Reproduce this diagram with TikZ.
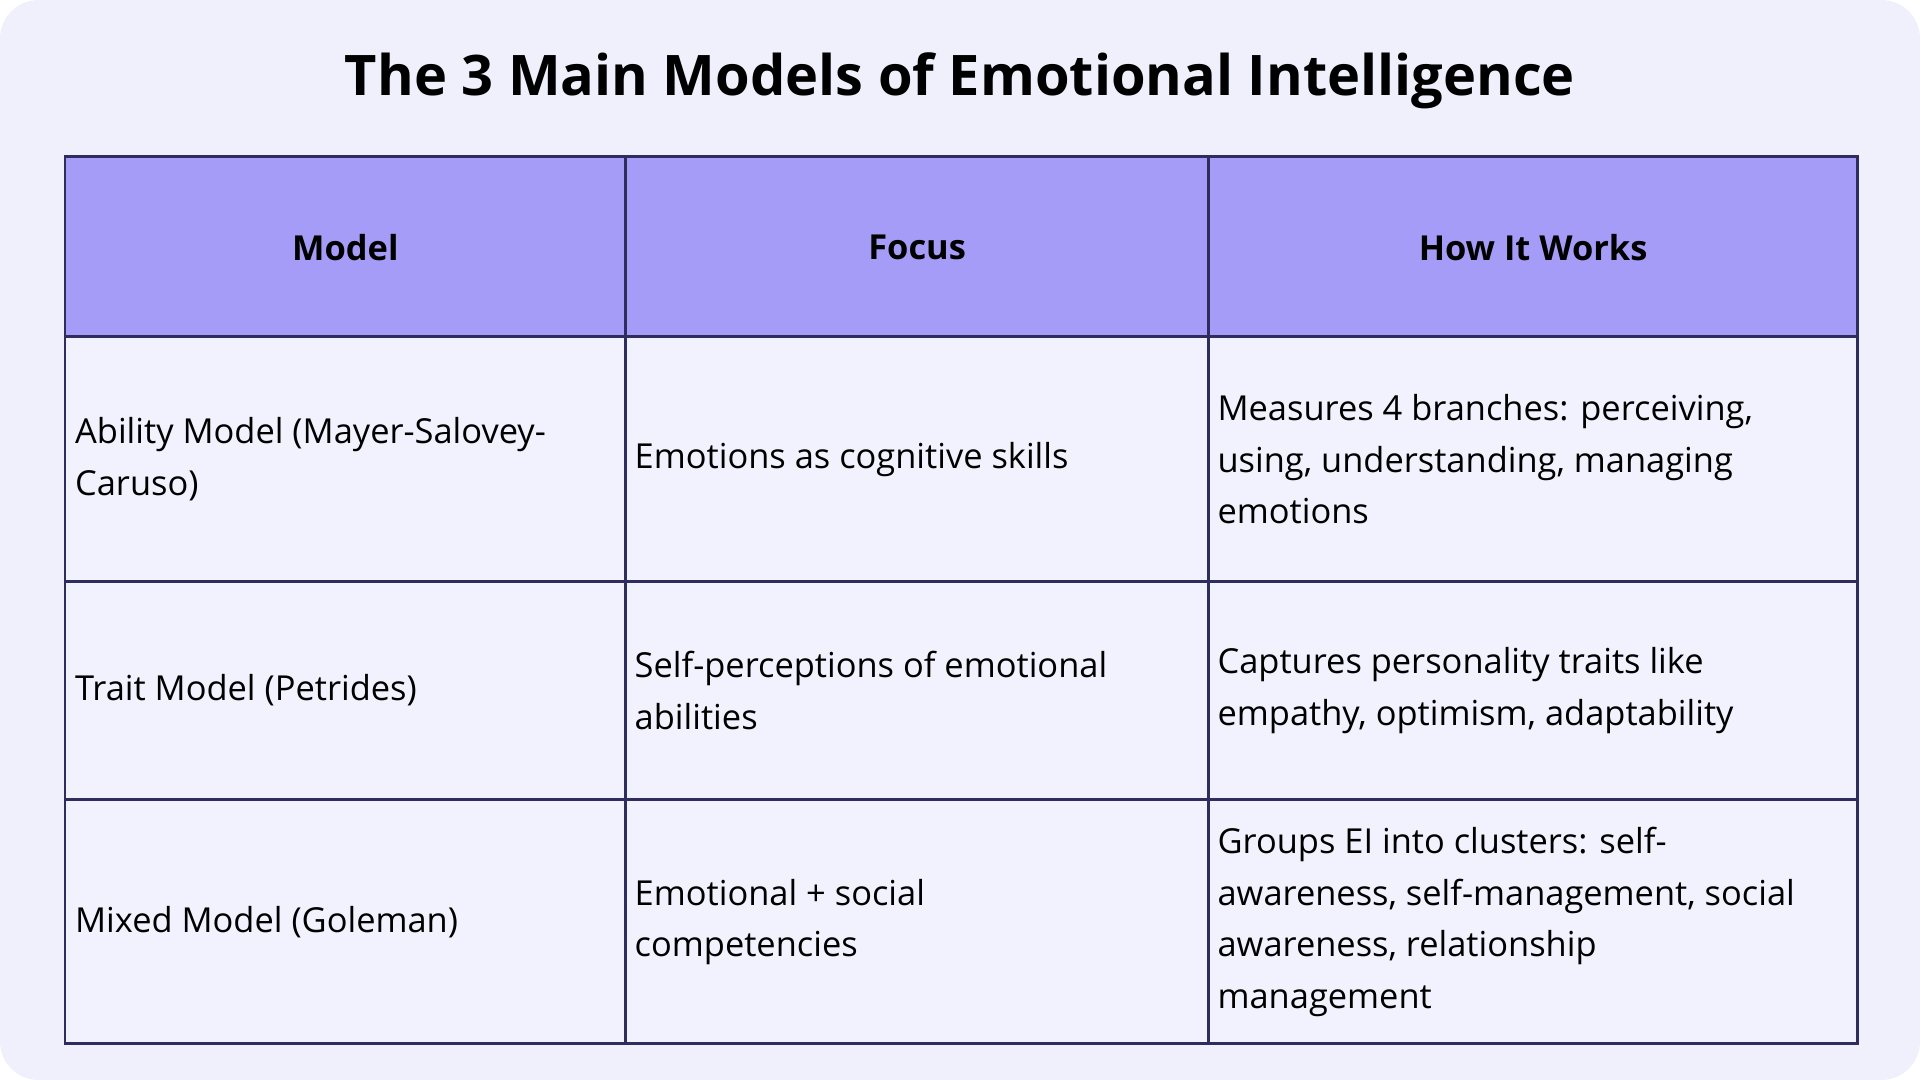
\documentclass[tikz,border=0pt]{standalone}
\usepackage{fontspec}
\setmainfont{Open Sans}
\definecolor{bg}{HTML}{F0F0FC}
\definecolor{hdr}{HTML}{A59CF8}
\definecolor{cellbg}{HTML}{F2F1FE}
\definecolor{grid}{HTML}{2E2D5E}
\begin{document}
\begin{tikzpicture}[x=0.02cm,y=-0.02cm,
  cell/.style={anchor=west,align=left,inner sep=0pt,font=\fontsize{16}{24}\selectfont,text=black},
  head/.style={anchor=center,inner sep=0pt,font=\fontsize{16}{24}\selectfont\bfseries}]
\useasboundingbox (0,0) rectangle (1568,882);
\fill[white] (0,0) rectangle (1568,882);
\fill[bg,rounded corners=18] (0,0) rectangle (1568,882);
\node[font=\fontsize{26}{32}\selectfont\bfseries] (title) at (784,66) {The 3 Main Models of Emotional Intelligence};
\fill[hdr] (53,128) rectangle (1517,275);
\fill[cellbg] (53,275) rectangle (1517,852);
\draw[grid,line width=1.2pt] (53,128) rectangle (1517,852);
\draw[grid,line width=1.2pt] (511,128) -- (511,852) (987,128) -- (987,852)
  (53,275) -- (1517,275) (53,475) -- (1517,475) (53,653) -- (1517,653);
\node[head] (h1) at (282,202) {Model};
\node[head] (h2) at (749,202) {Focus};
\node[head] (h3) at (1252,202) {How It Works};
\node[cell] (a1) at (61,375) {Ability Model (Mayer-Salovey-\\Caruso)};
\node[cell] (a2) at (518,375) {Emotions as cognitive skills};
\node[cell] (a3) at (994,375) {Measures 4 branches: perceiving,\\using, understanding, managing\\emotions};
\node[cell] (b1) at (61,564) {Trait Model (Petrides)};
\node[cell] (b2) at (518,564) {Self-perceptions of emotional\\abilities};
\node[cell] (b3) at (994,564) {Captures personality traits like\\empathy, optimism, adaptability};
\node[cell] (c1) at (61,753) {Mixed Model (Goleman)};
\node[cell] (c2) at (518,753) {Emotional + social\\competencies};
\node[cell] (c3) at (994,753) {Groups EI into clusters: self-\\awareness, self-management, social\\awareness, relationship\\management};
\end{tikzpicture}
\end{document}
